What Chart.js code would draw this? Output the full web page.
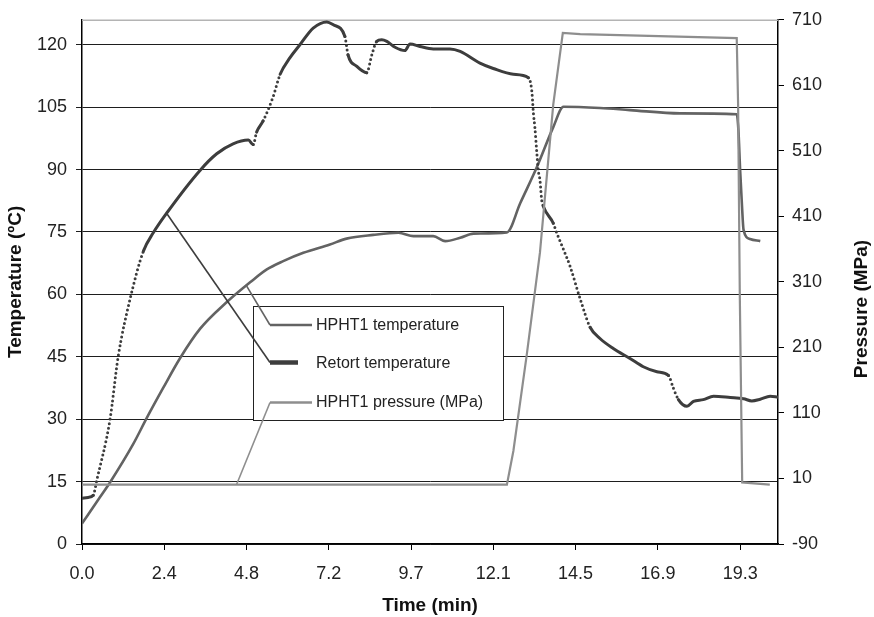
<!DOCTYPE html>
<html>
<head>
<meta charset="utf-8">
<script src="https://cdn.jsdelivr.net/npm/chart.js@4.4.1/dist/chart.umd.min.js"></script>
<style>
  html, body { margin: 0; padding: 0; background: #fff; }
  #wrap { width: 874px; height: 617px; }
</style>
</head>
<body>
<div id="wrap"><canvas id="myChart" width="874" height="617"></canvas></div>
<script>
// time axis ticks (min) and labels
const xTickValues = [0, 2.4125, 4.825, 7.2375, 9.65, 12.0625, 14.475, 16.8875, 19.3];
const xTickLabels = ['0.0', '2.4', '4.8', '7.2', '9.7', '12.1', '14.5', '16.9', '19.3'];
const tempTicks = [0, 15, 30, 45, 60, 75, 90, 105, 120];
const pressTicks = [-90, 10, 110, 210, 310, 410, 510, 610, 710];

// Retort temperature (ºC)
const retortTime = [0, 0.18, 0.33, 0.43, 0.82, 1.06, 1.41, 1.80, 2.09, 2.48, 3.46, 3.95, 4.43, 4.88,
  5.02, 5.12, 5.31, 5.60, 5.81, 6.10, 6.39, 6.78, 7.18, 7.37, 7.71, 7.80, 8.06, 8.35, 8.50, 8.64,
  8.79, 8.94, 9.18, 9.47, 9.62, 9.91, 10.30, 10.79, 11.09, 11.67, 12.06, 12.65, 13.09, 13.19,
  13.24, 13.28, 13.34, 13.38, 13.43, 13.48, 13.53, 13.82, 13.92, 14.12, 14.31, 14.61, 14.90,
  15.19, 15.58, 16.07, 16.46, 16.86, 17.20, 17.34, 17.49, 17.74, 17.93, 18.22, 18.52, 19.01,
  19.40, 19.64, 19.89, 20.18, 20.41];
const retortTemp = [11.0, 11.2, 11.7, 15.2, 29.9, 45.0, 58.9, 70.4, 74.8, 79.5, 89.8, 93.8, 96.2, 97.1,
  96.0, 99.0, 101.7, 107.4, 112.9, 116.9, 120.0, 124.0, 125.5, 124.8, 122.0, 117.6, 114.8, 113.3, 117.6, 120.8,
  121.2, 120.8, 119.4, 118.6, 120.2, 119.6, 119.0, 119.0, 118.4, 115.6, 114.3, 112.9, 112.1, 108.9,
  103.3, 100.2, 93.8, 89.8, 87.5, 82.7, 81.1, 77.1, 74.8, 70.8, 66.8, 58.9, 52.1,
  49.4, 47.0, 44.6, 42.6, 41.4, 40.5, 37.5, 34.7, 33.1, 34.3, 34.7, 35.5, 35.2,
  34.9, 34.4, 34.8, 35.5, 35.3];

// HPHT1 temperature (ºC)
const hphtTime = [0, 0.53, 0.82, 1.50, 1.90, 2.38, 2.87, 3.46, 4.24, 4.93, 5.42, 5.90, 6.49, 7.27,
  7.76, 8.54, 9.28, 9.72, 10.30, 10.65, 11.09, 11.48, 12.46, 12.85, 13.34, 13.82, 14.12, 15.19,
  16.07, 17.54, 19.20, 19.25, 19.30, 19.35, 19.40, 19.59, 19.89];
const hphtTemp = [4.9, 11.3, 14.8, 24.0, 30.3, 37.5, 44.6, 51.7, 58.1, 62.9, 66.0, 68.0, 70.0, 72.0,
  73.4, 74.3, 74.8, 74.0, 74.0, 72.8, 73.6, 74.6, 74.9, 81.9, 90.6, 100.2, 105.1, 104.8,
  104.3, 103.5, 103.3, 99.4, 89.8, 81.9, 75.5, 73.3, 72.8];

// HPHT1 pressure (MPa)
const pressTime = [0, 12.46, 12.65, 13.04, 13.43, 13.82, 14.10, 14.61, 19.20, 19.24, 19.29, 19.36, 20.17];
const pressVal = [0.5, 0.5, 52, 198, 355, 581, 690, 688, 682, 581, 289, 4, 0.7];

const seriesNames = ['HPHT1 temperature', 'Retort temperature', 'HPHT1 pressure (MPa)'];
const colRetort = '#3d3d3d', colHpht = '#636363', colPress = '#8e8e8e';

const pts = (ts, vs) => ts.map((t, i) => ({ x: t, y: vs[i] }));
const steep = c => Math.abs((c.p1.y - c.p0.y) / Math.max(c.p1.x - c.p0.x, 0.1)) > 2.2;

Chart.defaults.font.family = "'Liberation Sans', Arial, sans-serif";
Chart.defaults.color = '#222';

// legend box with leader lines, top border, right axis title
const decor = {
  id: 'decor',
  beforeDatasetsDraw(chart) {
    const { ctx, chartArea: a } = chart;
    ctx.save();
    ctx.strokeStyle = '#b4b4b4';
    ctx.lineWidth = 1.5;
    ctx.beginPath();
    ctx.moveTo(a.left, a.top + 0.5);
    ctx.lineTo(a.right, a.top + 0.5);
    ctx.stroke();
    ctx.restore();
  },
  afterDatasetsDraw(chart) {
    const { ctx } = chart;
    const sx = chart.scales.x, yT = chart.scales.y, yP = chart.scales.y1;
    ctx.save();
    ctx.fillStyle = '#fff';
    ctx.fillRect(253.5, 306.5, 250, 114);
    ctx.strokeStyle = '#222';
    ctx.lineWidth = 1;
    ctx.strokeRect(253.5, 306.5, 250, 114);

    const items = [
      { name: seriesNames[0], col: colHpht, w: 2.5, y: 325, len: 42, from: [sx.getPixelForValue(4.83), yT.getPixelForValue(62.0)] },
      { name: seriesNames[1], col: colRetort, w: 4.5, y: 362.5, len: 28, from: [sx.getPixelForValue(2.48), yT.getPixelForValue(79.5)] },
      { name: seriesNames[2], col: colPress, w: 2.5, y: 402.5, len: 42, from: [sx.getPixelForValue(4.53), yP.getPixelForValue(0.5)] }
    ];
    ctx.lineCap = 'butt';
    items.forEach(it => {
      ctx.strokeStyle = it.col;
      ctx.lineWidth = 1.6;
      ctx.beginPath();
      ctx.moveTo(it.from[0], it.from[1]);
      ctx.lineTo(270, it.y);
      ctx.stroke();
      ctx.lineWidth = it.w;
      ctx.beginPath();
      ctx.moveTo(270, it.y);
      ctx.lineTo(270 + it.len, it.y);
      ctx.stroke();
    });
    ctx.fillStyle = '#222';
    ctx.font = "16px 'Liberation Sans', Arial, sans-serif";
    ctx.textBaseline = 'middle';
    ctx.fillText(items[0].name, 316, 325.5);
    ctx.fillText(items[1].name, 316, 363.5);
    ctx.fillText(items[2].name, 316, 403);

    ctx.translate(862, 309);
    ctx.rotate(-Math.PI / 2);
    ctx.font = "bold 19px 'Liberation Sans', Arial, sans-serif";
    ctx.textAlign = 'center';
    ctx.fillStyle = '#111';
    ctx.fillText('Pressure (MPa)', 0, 0);
    ctx.restore();
  }
};

const ctx = document.getElementById('myChart').getContext('2d');
const chart = new Chart(ctx, {
  type: 'line',
  data: {
    datasets: [
      {
        label: seriesNames[2], data: pts(pressTime, pressVal), yAxisID: 'y1',
        borderColor: colPress, borderWidth: 2.2, pointRadius: 0, tension: 0, order: 0
      },
      {
        label: seriesNames[1], data: pts(retortTime, retortTemp), yAxisID: 'y',
        borderColor: colRetort, borderWidth: 3, pointRadius: 0, cubicInterpolationMode: 'monotone',
        borderCapStyle: 'round', order: 1,
        segment: { borderDash: c => steep(c) ? [0, 4.6] : undefined }
      },
      {
        label: seriesNames[0], data: pts(hphtTime, hphtTemp), yAxisID: 'y',
        borderColor: colHpht, borderWidth: 2.6, pointRadius: 0, cubicInterpolationMode: 'monotone', order: 2
      }
    ]
  },
  options: {
    responsive: false,
    animation: false,
    layout: { padding: { top: 15, left: 0, right: 0, bottom: 0 } },
    plugins: { legend: { display: false }, tooltip: { enabled: false } },
    scales: {
      x: {
        type: 'linear', position: 'bottom', min: 0, max: 20.41,
        afterBuildTicks: s => { s.ticks = xTickValues.map(v => ({ value: v })); },
        afterFit: s => { s.height = 73; },
        ticks: { callback: (v, i) => xTickLabels[i], font: { size: 18 }, padding: 13, autoSkip: false, maxRotation: 0 },
        grid: { drawOnChartArea: false, drawTicks: true, tickLength: 6, color: '#000', lineWidth: 1 },
        border: { color: '#000', width: 1.5 },
        title: { display: true, text: 'Time (min)', font: { size: 19, weight: 'bold' }, color: '#111', padding: { top: 0, bottom: 0 } }
      },
      y: {
        type: 'linear', position: 'left', min: 0, max: 126,
        afterBuildTicks: s => { s.ticks = tempTicks.map(v => ({ value: v })); },
        afterFit: s => { s.width = 82; },
        ticks: { font: { size: 18 }, padding: 9 },
        grid: { color: '#1e1e1e', lineWidth: 1, tickLength: 6 },
        border: { color: '#000', width: 1.5 },
        title: { display: true, text: 'Temperature (ºC)', font: { size: 19, weight: 'bold' }, color: '#111', padding: { top: 4, bottom: 0 } }
      },
      y1: {
        type: 'linear', position: 'right', min: -90, max: 710,
        afterBuildTicks: s => { s.ticks = pressTicks.map(v => ({ value: v })); },
        afterFit: s => { s.width = 96; },
        ticks: { font: { size: 18 }, padding: 8 },
        grid: { drawOnChartArea: false, tickLength: 6, color: '#000', lineWidth: 1 },
        border: { color: '#000', width: 1.5 }
      }
    }
  },
  plugins: [decor]
});
</script>
</body>
</html>
